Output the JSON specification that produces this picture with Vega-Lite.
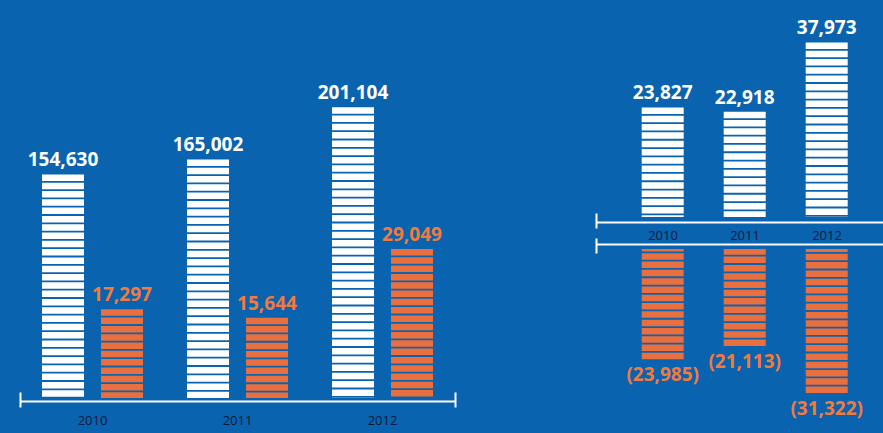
{
  "$schema": "https://vega.github.io/schema/vega-lite/v6.json",
  "padding": {"left": 19, "top": 0, "right": 0, "bottom": 0},
  "background": "#0a63ae",
  "bounds": "flush",
  "spacing": 141,
  "resolve": {"scale": {"x": "independent", "xOffset": "independent", "y": "independent"}},
  "datasets": {
    "left": [
      {"year": "2010", "series": "white", "value": 154630},
      {"year": "2010", "series": "orange", "value": 17297},
      {"year": "2011", "series": "white", "value": 165002},
      {"year": "2011", "series": "orange", "value": 15644},
      {"year": "2012", "series": "white", "value": 201104},
      {"year": "2012", "series": "orange", "value": 29049}
    ],
    "right": [
      {"year": "2010", "series": "white", "value": 23827},
      {"year": "2011", "series": "white", "value": 22918},
      {"year": "2012", "series": "white", "value": 37973},
      {"year": "2010", "series": "orange", "value": -23985},
      {"year": "2011", "series": "orange", "value": -21113},
      {"year": "2012", "series": "orange", "value": -31322}
    ]
  },
  "config": {
    "view": {"stroke": null},
    "axis": {
      "labelFont": "Open Sans",
      "labelColor": "#0b1a3a",
      "domainColor": "white",
      "domainWidth": 2,
      "grid": false,
      "title": null
    },
    "text": {"font": "Open Sans", "fontWeight": "bold", "fontSize": 19}
  },
  "hconcat": [
    {
      "width": 435,
      "height": 398,
      "data": {"name": "left"},
      "resolve": {"scale": {"y": "independent"}, "axis": {"x": "independent"}},
      "layer": [
        {
          "transform": [{"filter": "datum.series === 'white'"}],
          "mark": {"type": "rule", "color": "white", "strokeWidth": 42, "strokeDash": [6.5, 1.8]},
          "encoding": {
            "x": {"field": "year", "type": "nominal", "scale": {"paddingInner": 0, "paddingOuter": 0},
              "axis": {"orient": "bottom", "offset": 3, "ticks": false, "labelPadding": 13, "labelFontSize": 13, "labelAngle": 0, "title": null}},
            "xOffset": {"field": "series", "type": "nominal", "scale": {"domain": ["white", "orange"], "paddingInner": 0.288, "paddingOuter": 0.373}},
            "y": {"field": "value", "type": "quantitative", "scale": {"domain": [0, 275250], "nice": false}, "axis": null},
            "y2": {"datum": 0}
          }
        },
        {
          "transform": [{"filter": "datum.series === 'orange'"}],
          "mark": {"type": "rule", "color": "#ea6f3e", "strokeWidth": 42, "strokeDash": [6.5, 1.8]},
          "encoding": {
            "x": {"field": "year", "type": "nominal", "scale": {"paddingInner": 0, "paddingOuter": 0},
              "axis": {"orient": "bottom", "offset": -6, "domain": false, "labels": false, "ticks": true, "tickBand": "extent", "tickSize": 15, "tickWidth": 2, "tickColor": "white",
                "tickOpacity": {"condition": {"test": "datum.value === '2010' || datum.value === '2011'", "value": 0}, "value": 1}, "title": null}},
            "xOffset": {"field": "series", "type": "nominal", "scale": {"domain": ["white", "orange"], "paddingInner": 0.288, "paddingOuter": 0.373}},
            "y": {"field": "value", "type": "quantitative", "scale": {"domain": [0, 77600], "nice": false}, "axis": null},
            "y2": {"datum": 0}
          }
        },
        {
          "transform": [{"filter": "datum.series === 'white'"}],
          "mark": {"type": "text", "color": "white", "baseline": "alphabetic", "dy": -8},
          "encoding": {
            "x": {"field": "year", "type": "nominal", "axis": null},
            "xOffset": {"field": "series", "type": "nominal"},
            "y": {"field": "value", "type": "quantitative", "scale": {"domain": [0, 275250], "nice": false}, "axis": null},
            "text": {"field": "value", "type": "quantitative", "format": ","}
          }
        },
        {
          "transform": [{"filter": "datum.series === 'orange'"}],
          "mark": {"type": "text", "color": "#f27a3c", "baseline": "alphabetic", "dy": -8},
          "encoding": {
            "x": {"field": "year", "type": "nominal", "axis": null},
            "xOffset": {"field": "series", "type": "nominal"},
            "y": {"field": "value", "type": "quantitative", "scale": {"domain": [0, 77600], "nice": false}, "axis": null},
            "text": {"field": "value", "type": "quantitative", "format": ","}
          }
        }
      ]
    },
    {
      "bounds": "flush",
      "spacing": 32,
      "resolve": {"scale": {"x": "independent", "xOffset": "independent", "y": "independent"}},
      "vconcat": [
        {
          "width": 287,
          "height": 217,
          "data": {"name": "right"},
          "transform": [{"filter": "datum.series === 'white'"}],
          "resolve": {"axis": {"x": "independent"}},
          "layer": [
            {
              "mark": {"type": "rule", "color": "white", "strokeWidth": 42, "strokeDash": [6.5, 1.8]},
              "encoding": {
                "x": {"field": "year", "type": "nominal", "scale": {"paddingInner": 0, "paddingOuter": 0.25, "align": 0},
                  "axis": {"orient": "bottom", "offset": 5, "ticks": false, "labelPadding": 7, "labelOffset": 26, "labelFontSize": 13, "labelAngle": 0, "title": null}},
                "xOffset": {"field": "series", "type": "nominal", "scale": {"paddingInner": 0, "paddingOuter": 2, "align": 0.97}},
                "y": {"field": "value", "type": "quantitative", "scale": {"domain": [0, 47200], "nice": false}, "axis": null},
                "y2": {"datum": 0}
              }
            },
            {
              "mark": {"type": "text", "color": "white", "baseline": "alphabetic", "dy": -8},
              "encoding": {
                "x": {"field": "year", "type": "nominal", "scale": {"paddingInner": 0, "paddingOuter": 0.25, "align": 0},
                  "axis": {"orient": "bottom", "offset": -4, "domain": false, "labels": false, "ticks": true, "tickBand": "extent", "tickSize": 15, "tickWidth": 2, "tickColor": "white",
                    "tickOpacity": {"condition": {"test": "isValid(datum.value)", "value": 0}, "value": 1}, "title": null}},
                "xOffset": {"field": "series", "type": "nominal", "scale": {"paddingInner": 0, "paddingOuter": 2, "align": 0.97}},
                "y": {"field": "value", "type": "quantitative", "scale": {"domain": [0, 47200], "nice": false}, "axis": null},
                "text": {"field": "value", "type": "quantitative", "format": ","}
              }
            }
          ]
        },
        {
          "width": 287,
          "height": 184,
          "data": {"name": "right"},
          "transform": [{"filter": "datum.series === 'orange'"}],
          "resolve": {"axis": {"x": "independent"}},
          "layer": [
            {
              "mark": {"type": "rule", "color": "#ea6f3e", "strokeWidth": 42, "strokeDash": [6.5, 1.8]},
              "encoding": {
                "x": {"field": "year", "type": "nominal", "scale": {"paddingInner": 0, "paddingOuter": 0.25, "align": 0},
                  "axis": {"orient": "top", "offset": 5, "ticks": false, "labels": false, "title": null}},
                "xOffset": {"field": "series", "type": "nominal", "scale": {"paddingInner": 0, "paddingOuter": 2, "align": 0.97}},
                "y": {"field": "value", "type": "quantitative", "scale": {"domain": [-40000, 0], "nice": false}, "axis": null},
                "y2": {"datum": 0}
              }
            },
            {
              "mark": {"type": "text", "color": "#f27a3c", "baseline": "top", "dy": 7},
              "encoding": {
                "x": {"field": "year", "type": "nominal", "scale": {"paddingInner": 0, "paddingOuter": 0.25, "align": 0},
                  "axis": {"orient": "top", "offset": -4, "domain": false, "labels": false, "ticks": true, "tickBand": "extent", "tickSize": 15, "tickWidth": 2, "tickColor": "white",
                    "tickOpacity": {"condition": {"test": "isValid(datum.value)", "value": 0}, "value": 1}, "title": null}},
                "xOffset": {"field": "series", "type": "nominal", "scale": {"paddingInner": 0, "paddingOuter": 2, "align": 0.97}},
                "y": {"field": "value", "type": "quantitative", "scale": {"domain": [-40000, 0], "nice": false}, "axis": null},
                "text": {"field": "value", "type": "quantitative", "format": "(,"}
              }
            }
          ]
        }
      ]
    }
  ]
}
